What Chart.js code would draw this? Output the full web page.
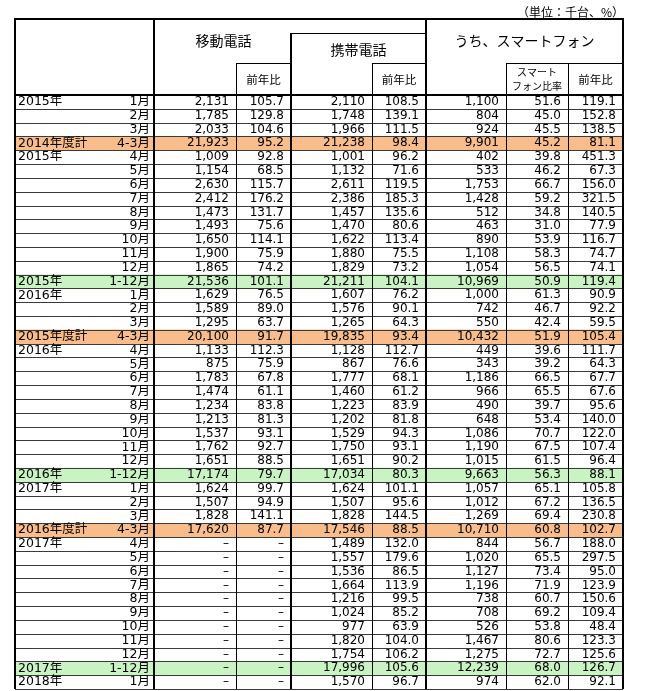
<!DOCTYPE html>
<html lang="ja">
<head>
<meta charset="utf-8">
<script src="https://cdn.jsdelivr.net/npm/chart.js@4.4.1/dist/chart.umd.min.js"></script>
<style>
  html, body { margin: 0; padding: 0; background: #fff; }
  canvas { display: block; }
</style>
</head>
<body>
<canvas id="tableChart" width="648" height="691"></canvas>
<script>
// 行ラベル
const rowYears = ['2015年', '', '', '2014年度計', '2015年', '', '', '', '', '', '', '', '', '2015年',
  '2016年', '', '', '2015年度計', '2016年', '', '', '', '', '', '', '', '', '2016年',
  '2017年', '', '', '2016年度計', '2017年', '', '', '', '', '', '', '', '', '2017年', '2018年'];
const rowMonths = ['1月', '2月', '3月', '4-3月', '4月', '5月', '6月', '7月', '8月', '9月', '10月', '11月', '12月', '1-12月',
  '1月', '2月', '3月', '4-3月', '4月', '5月', '6月', '7月', '8月', '9月', '10月', '11月', '12月', '1-12月',
  '1月', '2月', '3月', '4-3月', '4月', '5月', '6月', '7月', '8月', '9月', '10月', '11月', '12月', '1-12月', '1月'];

// 移動電話
const mobile = [2131, 1785, 2033, 21923, 1009, 1154, 2630, 2412, 1473, 1493, 1650, 1900, 1865, 21536,
  1629, 1589, 1295, 20100, 1133, 875, 1783, 1474, 1234, 1213, 1537, 1762, 1651, 17174,
  1624, 1507, 1828, 17620, null, null, null, null, null, null, null, null, null, null, null];
const mobileYoY = [105.7, 129.8, 104.6, 95.2, 92.8, 68.5, 115.7, 176.2, 131.7, 75.6, 114.1, 75.9, 74.2, 101.1,
  76.5, 89.0, 63.7, 91.7, 112.3, 75.9, 67.8, 61.1, 83.8, 81.3, 93.1, 92.7, 88.5, 79.7,
  99.7, 94.9, 141.1, 87.7, null, null, null, null, null, null, null, null, null, null, null];

// 携帯電話
const keitai = [2110, 1748, 1966, 21238, 1001, 1132, 2611, 2386, 1457, 1470, 1622, 1880, 1829, 21211,
  1607, 1576, 1265, 19835, 1128, 867, 1777, 1460, 1223, 1202, 1529, 1750, 1651, 17034,
  1624, 1507, 1828, 17546, 1489, 1557, 1536, 1664, 1216, 1024, 977, 1820, 1754, 17996, 1570];
const keitaiYoY = [108.5, 139.1, 111.5, 98.4, 96.2, 71.6, 119.5, 185.3, 135.6, 80.6, 113.4, 75.5, 73.2, 104.1,
  76.2, 90.1, 64.3, 93.4, 112.7, 76.6, 68.1, 61.2, 83.9, 81.8, 94.3, 93.1, 90.2, 80.3,
  101.1, 95.6, 144.5, 88.5, 132.0, 179.6, 86.5, 113.9, 99.5, 85.2, 63.9, 104.0, 106.2, 105.6, 96.7];

// うち、スマートフォン
const smart = [1100, 804, 924, 9901, 402, 533, 1753, 1428, 512, 463, 890, 1108, 1054, 10969,
  1000, 742, 550, 10432, 449, 343, 1186, 966, 490, 648, 1086, 1190, 1015, 9663,
  1057, 1012, 1269, 10710, 844, 1020, 1127, 1196, 738, 708, 526, 1467, 1275, 12239, 974];
const smartShare = [51.6, 45.0, 45.5, 45.2, 39.8, 46.2, 66.7, 59.2, 34.8, 31.0, 53.9, 58.3, 56.5, 50.9,
  61.3, 46.7, 42.4, 51.9, 39.6, 39.2, 66.5, 65.5, 39.7, 53.4, 70.7, 67.5, 61.5, 56.3,
  65.1, 67.2, 69.4, 60.8, 56.7, 65.5, 73.4, 71.9, 60.7, 69.2, 53.8, 80.6, 72.7, 68.0, 62.0];
const smartYoY = [119.1, 152.8, 138.5, 81.1, 451.3, 67.3, 156.0, 321.5, 140.5, 77.9, 116.7, 74.7, 74.1, 119.4,
  90.9, 92.2, 59.5, 105.4, 111.7, 64.3, 67.7, 67.6, 95.6, 140.0, 122.0, 107.4, 96.4, 88.1,
  105.8, 136.5, 230.8, 102.7, 188.0, 297.5, 95.0, 123.9, 150.6, 109.4, 48.4, 123.3, 125.6, 126.7, 92.1];

// 列の幅（x軸の単位）
const colWidths = [139, 82, 55, 81, 54, 80, 62, 55];
const colEdges = [0];
colWidths.forEach(w => colEdges.push(colEdges[colEdges.length - 1] + w));
const totalWidth = colEdges[colEdges.length - 1];

const FISCAL_BG = '#F8BD8B';
const YEAR_BG = '#C9F3C3';
const dataFont = '12px "DejaVu Sans", "Noto Sans CJK JP", sans-serif';
const labelFont = '12.5px "DejaVu Sans", "Noto Sans CJK JP", sans-serif';
const headFont = '"Noto Sans CJK JP", sans-serif';

// 年度計・年計の行だけ色付きの帯
const rowBand = rowMonths.map(m => (m === '4-3月' || m === '1-12月') ? [0, totalWidth] : null);
const rowColor = rowMonths.map(m => m === '4-3月' ? FISCAL_BG : (m === '1-12月' ? YEAR_BG : 'rgba(0,0,0,0)'));

function fmtInt(v) { return v == null ? '–' : v.toLocaleString('en-US'); }
function fmtPct(v) { return v == null ? '–' : v.toFixed(1); }

const columns = [
  { values: mobile, fmt: fmtInt },
  { values: mobileYoY, fmt: fmtPct },
  { values: keitai, fmt: fmtInt },
  { values: keitaiYoY, fmt: fmtPct },
  { values: smart, fmt: fmtInt },
  { values: smartShare, fmt: fmtPct },
  { values: smartYoY, fmt: fmtPct }
];

function line(c, x1, y1, x2, y2, w, color) {
  c.save();
  c.lineWidth = w;
  c.strokeStyle = color || '#000';
  c.beginPath();
  c.moveTo(x1, y1);
  c.lineTo(x2, y2);
  c.stroke();
  c.restore();
}

// 表の文字と罫線を描くプラグイン
const tablePlugin = {
  id: 'tableGrid',
  afterDatasetsDraw(chart) {
    const c = chart.ctx;
    const xs = chart.scales.x, ys = chart.scales.y;
    const top = chart.chartArea.top, bottom = chart.chartArea.bottom;
    const ex = colEdges.map(v => Math.round(xs.getPixelForValue(v)));
    const rh = (ys.bottom - ys.top) / rowMonths.length;

    // 行の罫線
    for (let i = 0; i < rowMonths.length; i++) {
      const yb = Math.round(ys.getPixelForValue(i) + rh / 2) + 0.5;
      line(c, ex[0], yb, ex[8], yb, 1, '#3a3a3a');
    }

    // 行の文字
    c.save();
    c.fillStyle = '#000';
    c.textBaseline = 'middle';
    for (let i = 0; i < rowMonths.length; i++) {
      const yc = ys.getPixelForValue(i);
      c.font = labelFont;
      c.textAlign = 'left';
      c.fillText(rowYears[i], ex[0] + 3, yc);
      c.textAlign = 'right';
      c.fillText(rowMonths[i], ex[1] - 4, yc);
      c.font = dataFont;
      columns.forEach((col, k) => {
        c.fillText(col.fmt(col.values[i]), ex[k + 2] - 7, yc);
      });
    }
    c.restore();

    // 見出し部分
    const hTop = top - 76, hMid = top - 62, hSub = top - 32;
    c.save();
    c.fillStyle = '#000';
    c.textBaseline = 'middle';
    c.textAlign = 'right';
    c.font = '12px ' + headFont;
    c.fillText('（単位：千台、%）', ex[8] + 1, top - 83);

    c.textAlign = 'center';
    c.font = '14px ' + headFont;
    c.fillText('移動電話', (ex[1] + ex[3]) / 2 + 1, top - 54);
    c.fillText('携帯電話', (ex[3] + ex[5]) / 2, top - 45);
    c.fillText('うち、スマートフォン', (ex[5] + ex[8]) / 2, top - 54);
    c.font = '11.5px ' + headFont;
    [2, 4, 7].forEach(k => c.fillText('前年比', (ex[k] + ex[k + 1]) / 2, top - 15));
    c.font = '10px ' + headFont;
    c.fillText('スマート', (ex[6] + ex[7]) / 2, top - 23);
    c.fillText('フォン比率', (ex[6] + ex[7]) / 2, top - 9);
    c.restore();

    // 見出しの罫線
    line(c, ex[0] - 1, hTop, ex[8] + 1, hTop, 2);
    line(c, ex[3], hMid + 0.5, ex[5], hMid + 0.5, 1);
    [2, 4, 6].forEach(k => {
      const right = k === 6 ? ex[8] : ex[k + 1];
      line(c, ex[k], hSub + 0.5, right, hSub + 0.5, 1);
    });
    line(c, ex[0] - 1, top, ex[8] + 1, top, 2);

    // 縦の罫線
    line(c, ex[0], hTop, ex[0], bottom, 2);
    line(c, ex[8], hTop, ex[8], bottom, 2);
    line(c, ex[1], hTop, ex[1], bottom, 2);
    line(c, ex[5], hTop, ex[5], bottom, 2);
    line(c, ex[3], hMid, ex[3], bottom, 2);
    line(c, ex[2] + 0.5, hSub, ex[2] + 0.5, bottom, 1);
    line(c, ex[4] + 0.5, hSub, ex[4] + 0.5, bottom, 1);
    line(c, ex[6] + 0.5, hSub, ex[6] + 0.5, bottom, 1);
    line(c, ex[7] + 0.5, hSub, ex[7] + 0.5, bottom, 1);
  }
};

const ctx = document.getElementById('tableChart').getContext('2d');
const tableChart = new Chart(ctx, {
  type: 'bar',
  data: {
    labels: rowMonths.map((m, i) => i),
    datasets: [{
      data: rowBand,
      backgroundColor: rowColor,
      borderWidth: 0,
      barPercentage: 1,
      categoryPercentage: 1
    }]
  },
  options: {
    indexAxis: 'y',
    responsive: false,
    animation: false,
    devicePixelRatio: 1,
    layout: { padding: { left: 15, right: 25, top: 95, bottom: 2 } },
    plugins: {
      legend: { display: false },
      tooltip: { enabled: false }
    },
    scales: {
      x: { type: 'linear', min: 0, max: totalWidth, display: false },
      y: { type: 'category', offset: true, display: false }
    }
  },
  plugins: [tablePlugin]
});
</script>
</body>
</html>
